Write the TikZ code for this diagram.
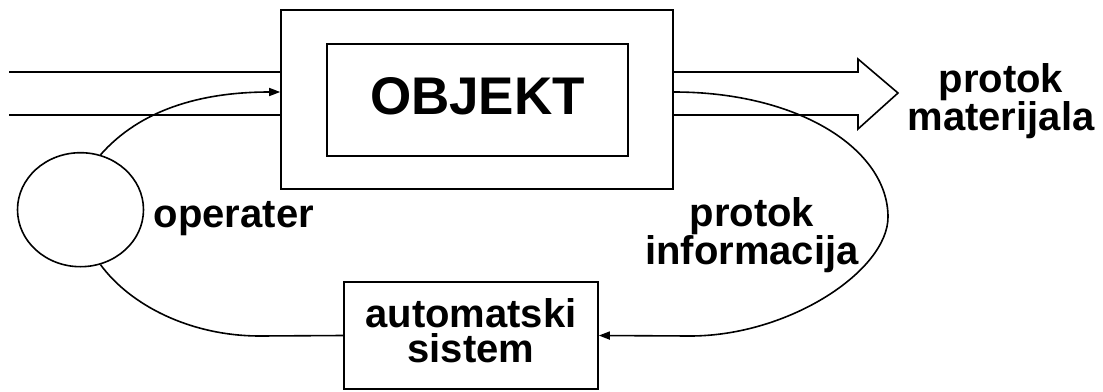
\documentclass[tikz,border=0pt]{standalone}
\usepackage{fontspec}
\setmainfont{Liberation Sans}
\usetikzlibrary{arrows.meta,shapes.geometric}
\begin{document}
\begin{tikzpicture}[x=1pt,y=-1pt, line width=1.6pt,
  box/.style={draw, rectangle, inner sep=0},
  lbl/.style={font=\bfseries\fontsize{40}{35}\selectfont, align=center, inner sep=0},
  tip/.style={-{Triangle[length=11pt,width=8pt]}}]
\useasboundingbox (0,0) rectangle (1103,391);
\node[box, minimum width=392pt, minimum height=179pt] (outer) at (477,99.5) {};
\node[box, minimum width=301pt, minimum height=112pt] (inner) at (477.5,100) {};
\node[font=\bfseries\fontsize{53}{53}\selectfont, anchor=base, inner sep=0] (objtxt) at (477.5,114) {OBJEKT};
\node[box, minimum width=254pt, minimum height=107pt] (auto) at (471,335.5) {};
\node[lbl] (autotxt) at (471,331) {automatski\\sistem};
\node[draw, ellipse, minimum width=126pt, minimum height=114pt, inner sep=0] (op) at (80.5,209.7) {};
\node[lbl, anchor=base west] (optxt) at (153,227) {operater};
\node[lbl] (mat) at (1001,101) {protok\\materijala};
\node[lbl] (inf) at (752,235) {protok\\informacija};
% input flow
\coordinate (a1) at (9,72);
\coordinate (a2) at (9,115);
\draw (a1) -- (a1 -| outer.west);
\draw (a2) -- (a2 -| outer.west);
% output hollow arrow
\coordinate (h) at (858,0);
\coordinate (hu) at (858,59);
\coordinate (hd) at (858,129);
\coordinate (htip) at (898,93);
\draw[line join=miter] (outer.east |- a1) -- (h |- a1) -- (hu) -- (htip) -- (hd) -- (h |- a2) -- (outer.east |- a2);
% information loop
\coordinate (y92) at (0,92);
\draw[tip] (op.70) .. controls (140,110) and (200,92) .. (outer.west |- y92);
\draw[tip] (outer.east |- y92) .. controls (800,92) and (888,150) .. (888,217) .. controls (888,270) and (790,336) .. (690,336) -- (auto.east);
\draw (op.-70) .. controls (130,305) and (190,336) .. (260,336) -- (auto.west);
\end{tikzpicture}
\end{document}
